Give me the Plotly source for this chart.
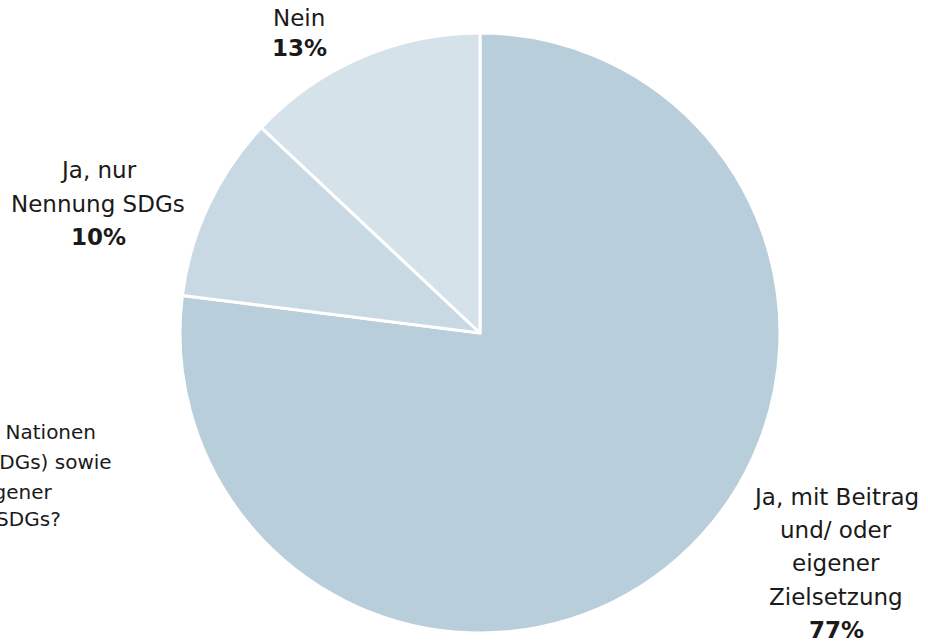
import plotly.graph_objects as go

labels = ["Ja, mit Beitrag<br>und/ oder<br>eigener<br>Zielsetzung", "Ja, nur<br>Nennung SDGs", "Nein"]
values = [77, 10, 13]
colors = ["#b9cedb", "#c8d9e3", "#d6e2ea"]

# question text, cut off at the left edge of the picture
question = ["der Vereinten Nationen", "Ziele (SDGs) sowie", "Beitrag/ eigener", "Zielsetzung zu SDGs?"]

W, H = 928, 642
cx, cy, r = 480, 333, 300

fig = go.Figure(go.Pie(
    labels=labels, values=values, sort=False, direction="clockwise", rotation=0,
    marker=dict(colors=colors, line=dict(color="white", width=3)),
    textinfo="none", hoverinfo="label+percent", showlegend=False,
    domain=dict(x=[(cx - r) / W, (cx + r) / W], y=[(H - cy - r) / H, (H - cy + r) / H]),
))

FONT = "DejaVu Sans"
# label anchors: x centre, y of first line, line step (pixels)
anchors = [(836, 497, 33.2), (98, 170, 33.5), (299, 18, 30)]

ann = []
for (x, y0, step), lab, v in zip(anchors, labels, values):
    lines = lab.split("<br>") + ["<b>%d%%</b>" % v]
    for i, t in enumerate(lines):
        ann.append(dict(x=x / W, y=1 - (y0 + i * step) / H, xref="paper", yref="paper",
                        text=t, showarrow=False, xanchor="center", yanchor="middle",
                        font=dict(family=FONT, size=23, color="#1a1a1a")))

for t, xe, y in zip(question, [98, 114, 55, 63], [432, 462, 492, 519]):
    ann.append(dict(x=xe / W, y=1 - y / H, xref="paper", yref="paper", text=t,
                    showarrow=False, xanchor="right", yanchor="middle",
                    font=dict(family=FONT, size=20, color="#1a1a1a")))

fig.update_layout(width=W, height=H, margin=dict(l=0, r=0, t=0, b=0),
                  paper_bgcolor="white", plot_bgcolor="white", annotations=ann)

fig.write_html("out.html", config={"displayModeBar": False},
               post_script="document.body.style.margin='0';")
